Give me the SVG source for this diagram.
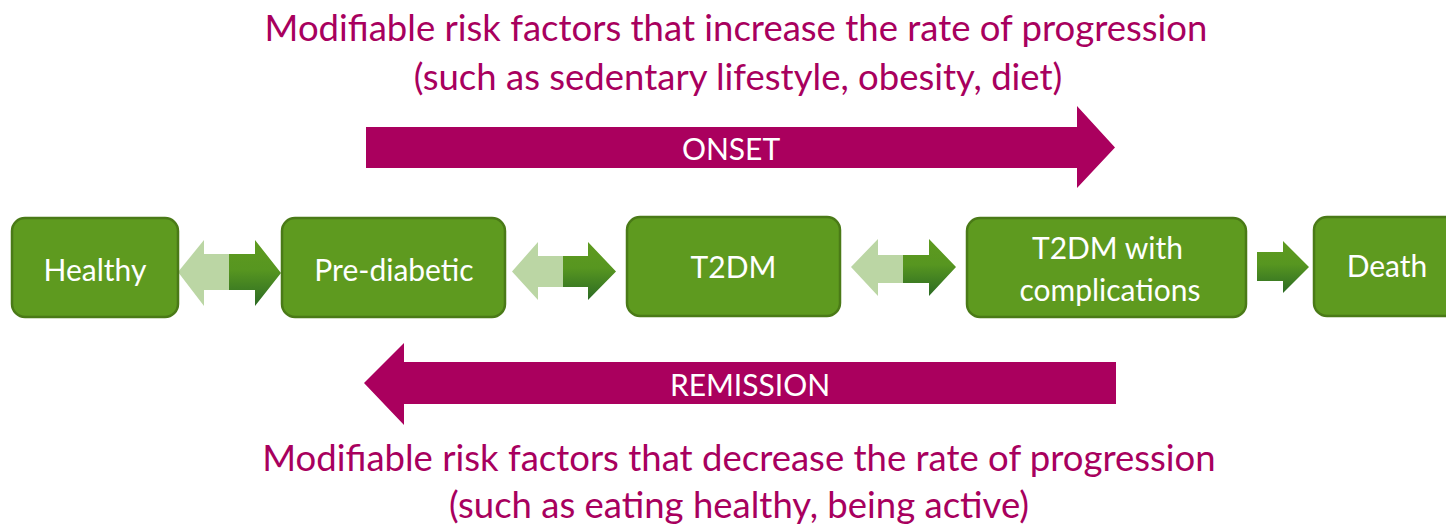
<svg xmlns="http://www.w3.org/2000/svg" width="1446" height="529" viewBox="0 0 1446 529">
  <defs>
    <linearGradient id="darkGrad" x1="0" y1="0" x2="0" y2="1">
      <stop offset="0" stop-color="#5e9a1f"/>
      <stop offset="0.45" stop-color="#579620"/>
      <stop offset="1" stop-color="#2b6a24"/>
    </linearGradient>
    <style>
      .box { fill: #5e9a1f; stroke: #4a7a17; stroke-width: 2.5; }
      .lbl { font-family: Lato, "Open Sans", sans-serif; font-size: 30px; fill: #ffffff; text-anchor: middle; }
      .title { font-family: Lato, "Open Sans", sans-serif; font-size: 36.5px; fill: #a8005e; text-anchor: middle; }
      .band { fill: #aa005e; }
      .light { fill: #bbd6a4; }
      .dark { fill: url(#darkGrad); }
    </style>
  </defs>
  <rect width="1446" height="529" fill="#ffffff"/>

  <g id="title-top">
    <text class="title" x="736" y="41">Modifiable risk factors that increase the rate of progression</text>
    <text class="title" x="738" y="90">(such as sedentary lifestyle, obesity, diet)</text>
  </g>
  <g id="title-bottom">
    <text class="title" x="739" y="471">Modifiable risk factors that decrease the rate of progression</text>
    <text class="title" x="739" y="518">(such as eating healthy, being active)</text>
  </g>

  <g id="onset">
    <polygon class="band" points="366,127 1077,127 1077,106 1115,147.5 1077,188 1077,168 366,168"/>
    <text class="lbl" x="731" y="160">ONSET</text>
  </g>
  <g id="remission">
    <polygon class="band" points="1116,362 404,362 404,343 364,383 404,425 404,404 1116,404"/>
    <text class="lbl" x="750" y="396">REMISSION</text>
  </g>

  <g id="connectors">
    <polygon class="light" points="178,272 204,240 204,254 230,254 230,290 204,290 204,306"/>
    <polygon class="dark" points="229,254 255,254 255,240 281,273 255,306 255,290 229,290"/>

    <polygon class="light" points="512,271.5 538,242 538,256 564,256 564,287 538,287 538,300"/>
    <polygon class="dark" points="563,256 588,256 588,242 616,271.5 588,300 588,287 563,287"/>

    <polygon class="light" points="851,267 878,239 878,255 904,255 904,283 878,283 878,296"/>
    <polygon class="dark" points="903,255 929,255 929,239 956,267 929,296 929,283 903,283"/>

    <polygon class="dark" points="1257,252 1283,252 1283,241 1309,267 1283,293 1283,281 1257,281"/>
  </g>

  <g id="node-healthy">
    <rect class="box" x="12" y="218" width="166" height="99" rx="13"/>
    <text class="lbl" x="95" y="281">Healthy</text>
  </g>
  <g id="node-prediabetic">
    <rect class="box" x="282" y="218" width="223" height="99" rx="13"/>
    <text class="lbl" x="394" y="281">Pre-diabetic</text>
  </g>
  <g id="node-t2dm">
    <rect class="box" x="627" y="217" width="213" height="99" rx="13"/>
    <text class="lbl" x="733.5" y="278">T2DM</text>
  </g>
  <g id="node-t2dm-complications">
    <rect class="box" x="967" y="218" width="279" height="99" rx="13"/>
    <text class="lbl" x="1107.5" y="259">T2DM with</text>
    <text class="lbl" x="1110" y="301">complications</text>
  </g>
  <g id="node-death">
    <rect class="box" x="1314" y="217" width="146" height="99" rx="13"/>
    <text class="lbl" x="1387" y="277">Death</text>
  </g>
</svg>
